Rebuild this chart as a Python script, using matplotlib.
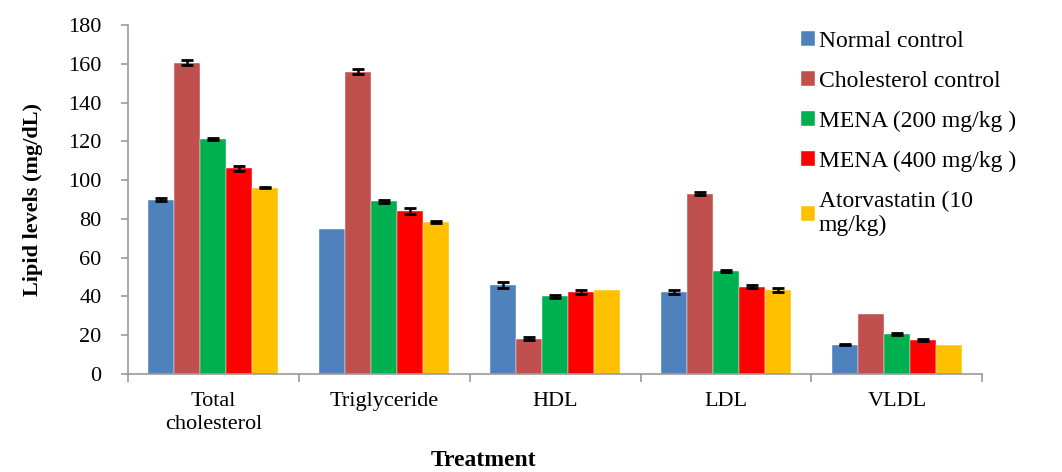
import numpy as np
import matplotlib.pyplot as plt

plt.rcParams['font.family'] = ['Liberation Serif', 'DejaVu Serif']

categories = ['Total\ncholesterol', 'Triglyceride', 'HDL', 'LDL', 'VLDL']
groups = ['Normal control', 'Cholesterol control', 'MENA (200 mg/kg )',
          'MENA (400 mg/kg )', 'Atorvastatin (10\nmg/kg)']
colors = ['#4F81BD', '#C0504D', '#00B050', '#FF0000', '#FFC000']

normal = [90, 75, 46, 42.5, 15.2]
chol = [160.5, 156, 18.3, 93, 31]
mena200 = [121, 89, 40, 53, 20.5]
mena400 = [106, 84, 42.5, 45, 17.5]
ator = [96, 78.5, 43.5, 43.5, 15.2]

err_normal = [1.0, 0, 1.5, 1.0, 0.4]
err_chol = [1.2, 1.2, 1.0, 0.7, 0]
err_200 = [0.5, 0.8, 0.8, 0.4, 0.4]
err_400 = [1.3, 1.6, 1.0, 0.8, 0.5]
err_ator = [0.3, 0.5, 0, 1.0, 0]

values = [normal, chol, mena200, mena400, ator]
errors = [err_normal, err_chol, err_200, err_400, err_ator]

fig = plt.figure(figsize=(10.62, 4.72), dpi=100)
ax = fig.add_axes([0.1205, 0.2076, 0.8045, 0.7394])

x = np.arange(len(categories))
w = 0.152
for i in range(5):
    pos = x + (i - 2) * w
    e = np.array(errors[i])
    ax.bar(pos, values[i], w, color=colors[i], edgecolor='white', linewidth=0.3,
           label=groups[i])
    ax.errorbar(pos, values[i], yerr=np.where(e > 0, e, np.nan), fmt='none',
                ecolor='black', elinewidth=1.8, capsize=4.5, capthick=2)

ax.set_xlim(-0.5, 4.5)
ax.set_ylim(0, 180)
ax.set_yticks(range(0, 181, 20))
ax.set_xticks(x)
ax.set_xticklabels(categories, fontsize=16, linespacing=1.3)
ax.set_xticks(np.arange(-0.5, 5, 1), minor=True)
ax.tick_params(axis='x', which='major', length=0, pad=13)
ax.tick_params(axis='x', which='minor', length=6, color='#999999', width=1.2)
ax.tick_params(axis='y', labelsize=16, length=5, color='#999999', width=1.2, pad=14)
for s in ['top', 'right']:
    ax.spines[s].set_visible(False)
for s in ['left', 'bottom']:
    ax.spines[s].set_color('#999999')
    ax.spines[s].set_linewidth(1.2)

ax.set_ylabel('Lipid levels (mg/dL)', fontsize=16, fontweight='bold', labelpad=18)
fig.text(0.455, 0.003, 'Treatment', fontsize=17, fontweight='bold', ha='center', va='bottom')

ax.legend(loc='upper left', bbox_to_anchor=(0.743, 0.96), bbox_transform=fig.transFigure,
          frameon=False, fontsize=17, handlelength=0.6, handleheight=0.6,
          handletextpad=0.15, labelspacing=0.8, borderpad=0)

fig.savefig('out.png', dpi=100)
